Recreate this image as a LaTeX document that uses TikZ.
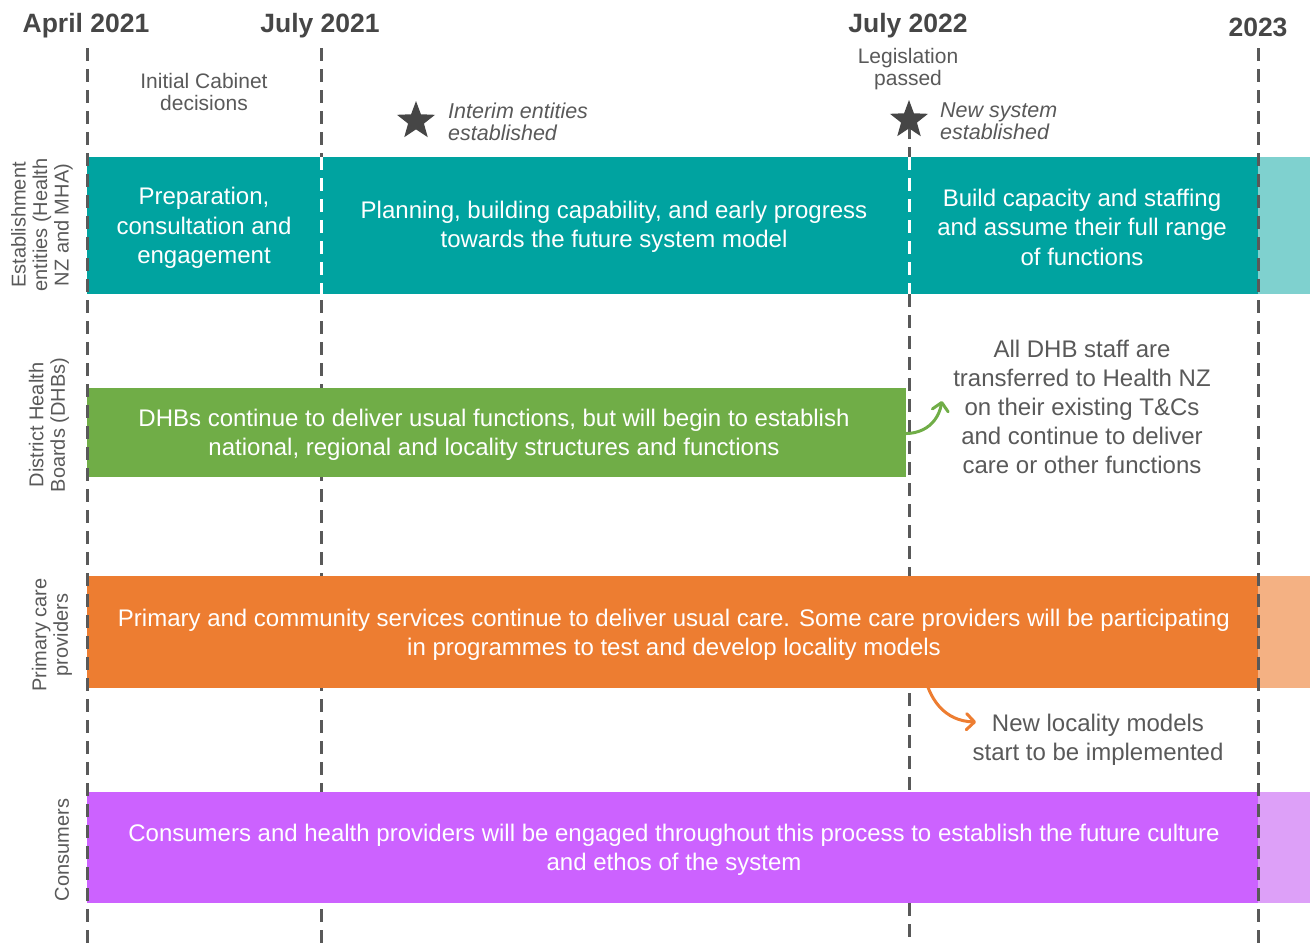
\documentclass[tikz,border=0pt]{standalone}
\usepackage{fontspec}
\setmainfont{Liberation Sans}
\usetikzlibrary{shapes.geometric,arrows.meta}

\definecolor{tealBar}{RGB}{0,163,160}
\definecolor{tealLight}{RGB}{127,209,207}
\definecolor{greenBar}{RGB}{112,173,71}
\definecolor{orangeBar}{RGB}{237,125,49}
\definecolor{orangeLight}{RGB}{244,177,131}
\definecolor{purpleBar}{RGB}{204,98,255}
\definecolor{purpleLight}{RGB}{221,160,248}
\definecolor{lineGrey}{RGB}{89,89,89}
\definecolor{textGrey}{RGB}{89,89,89}
\definecolor{headGrey}{RGB}{70,70,70}

\tikzset{
  timeline/.style={draw=lineGrey, line width=3pt, dash pattern=on 13pt off 8pt},
  whiteline/.style={draw=white, line width=3pt, dash pattern=on 13pt off 8pt},
  header/.style={text=headGrey, font=\fontsize{26.5}{30}\selectfont\bfseries, inner sep=0pt},
  note/.style={text=textGrey, align=center, font=\fontsize{21}{22}\selectfont, inner sep=0pt},
  milestone/.style={text=textGrey, align=left, anchor=west, font=\fontsize{21.5}{22}\selectfont\itshape, inner sep=0pt},
  bartext/.style={text=white, align=center, font=\fontsize{24}{29.5}\selectfont, inner sep=0pt},
  sidenote/.style={text=textGrey, align=center, font=\fontsize{24}{29}\selectfont, inner sep=0pt},
  lane/.style={text=textGrey, align=center, rotate=90, font=\fontsize{20}{21.5}\selectfont, inner sep=0pt},
  starmark/.style={star, star points=5, star point ratio=2.4, fill=headGrey, minimum size=40pt, inner sep=0pt},
  flowarrow/.style={line width=3pt, line cap=round, -{Straight Barb[length=8pt, width=16pt, line width=3pt, round]}}
}

\begin{document}
\begin{tikzpicture}[x=1pt,y=-1pt]
\useasboundingbox (0,0) rectangle (1311,943);

%Straight Lines: timeline markers behind the bars
\draw[timeline] (321,48) -- (321,943);
\draw[timeline] (909,105) -- (909,943);

%Shape: bars
\fill[tealBar] (87,157) rectangle (1258,294);
\fill[tealLight] (1258,157) rectangle (1310,294);
\fill[greenBar] (87,388) rectangle (906,477);
\fill[orangeBar] (87,576) rectangle (1258,688);
\fill[orangeLight] (1258,576) rectangle (1310,688);
\fill[purpleBar] (87,792) rectangle (1258,903);
\fill[purpleLight] (1258,792) rectangle (1310,903);

%Straight Lines: separators on the establishment bar
\draw[whiteline] (321,157) -- (321,294);
\draw[whiteline] (909,157) -- (909,294);

%Straight Lines: outer timeline markers over the bars
\draw[timeline] (87,48) -- (87,943);
\draw[timeline] (1258,48) -- (1258,943);

% Text Node: dates
\node[header] (apr21) at (86,26) {April 2021};
\node[header] (jul21) at (320,26) {July 2021};
\node[header] (jul22) at (908,26) {July 2022};
\node[header] (y2023) at (1258,27) {2023};

% Text Node: milestones
\node[note] (cabinet) at (204,92) {Initial Cabinet\\decisions};
\node[note] (legis) at (908,69) {Legislation\\passed};
\node[starmark] (star1) at (416,121) {};
\node[milestone] (interim) at (448,122) {Interim entities\\established};
\node[starmark] (star2) at (909,120) {};
\node[milestone] (newsys) at (940,121) {New system\\established};

% Text Node: establishment entities
\node[bartext] (prep) at (204,228) {Preparation,\\consultation and\\engagement};
\node[bartext] (plan) at (614,227) {Planning, building capability, and early progress\\towards the future system model};
\node[bartext] (build) at (1082,227) {Build capacity and staffing\\and assume their full range\\of functions};

% Text Node: DHBs
\node[bartext] (dhb) at (494,435) {DHBs continue to deliver usual functions, but will begin to establish\\national, regional and locality structures and functions};
\node[sidenote] (transfer) at (1082,407) {All DHB staff are\\transferred to Health NZ\\on their existing T\&Cs\\and continue to deliver\\care or other functions};

% Text Node: primary care
\node[bartext] (primary) at (674,635) {Primary and community services continue to deliver usual care. Some care providers will be participating\\in programmes to test and develop locality models};
\node[sidenote] (locality) at (1098,740) {New locality models\\start to be implemented};

% Text Node: consumers
\node[bartext] (consumer) at (674,850) {Consumers and health providers will be engaged throughout this process to establish the future culture\\and ethos of the system};

% Text Node: lanes
\node[lane] (laneEst) at (42,225) {Establishment\\entities (Health\\NZ and MHA)};
\node[lane] (laneDhb) at (49,425) {District Health\\Boards (DHBs)};
\node[lane] (lanePc) at (52,635) {Primary care\\providers};
\node[lane] (laneCon) at (62,850) {Consumers};

%Curves: arrows
\coordinate (dhbOut) at (885,430);
\coordinate (dhbIn) at (942,401);
\draw[flowarrow, greenBar] (dhbOut) .. controls (915,440) and (937,428) .. (dhbIn);
\coordinate (pcOut) at (923,668);
\coordinate (pcIn) at (976,722);
\draw[flowarrow, orangeBar] (pcOut) .. controls (928,700) and (945,721) .. (pcIn);

\end{tikzpicture}
\end{document}
